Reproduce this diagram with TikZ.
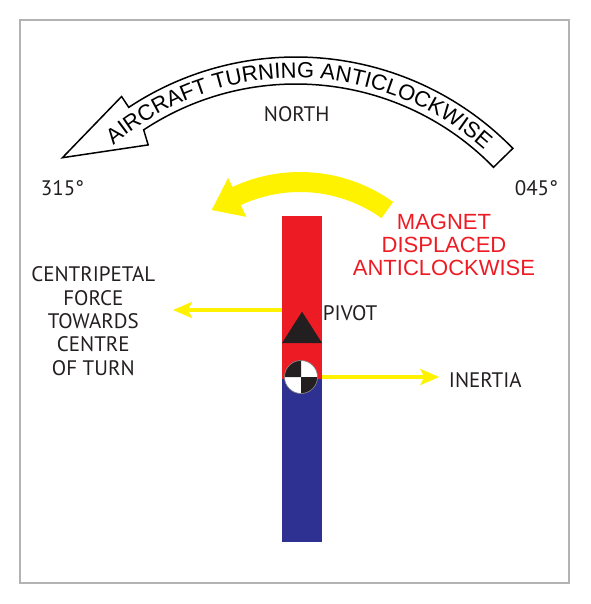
\documentclass[tikz,border=0pt]{standalone}
\usepackage{fontspec}
\setmainfont{PT Sans}
\newfontfamily\arialf{Liberation Sans}
\usetikzlibrary{decorations.text,arrows.meta}
\definecolor{magred}{HTML}{ED1C24}
\definecolor{magblue}{HTML}{2E3192}
\definecolor{yel}{HTML}{FFF200}
\definecolor{ink}{HTML}{231F20}
\definecolor{framegray}{HTML}{B3B3B3}
\begin{document}
\begin{tikzpicture}[x=1pt,y=1pt,
  lbl/.style={font=\fontsize{21}{23.3}\selectfont, text=ink, inner sep=0pt, align=center},
  redlbl/.style={font=\arialf\fontsize{22}{23.3}\selectfont, text=magred, inner sep=0pt, align=center},
  yarrow/.style={draw=yel, line width=3.3pt, -{Stealth[length=19pt,width=16pt,inset=4pt]}},
  barpart/.style={inner sep=0pt, minimum width=40pt, anchor=north, draw=none},
]
\useasboundingbox (0,0) rectangle (590,-604);
\draw[framegray, line width=1.3pt] (20,-20) rectangle (569,-583);

% big outline arrow
\coordinate (C1) at (296,-360);
\draw[line width=1.5pt, fill=white, line join=miter]
 ([shift={(44.3:303)}]C1) arc[start angle=44.3, end angle=123.5, radius=303]
 -- ([shift={(123.5:316)}]C1) -- ([shift={(139.1:309)}]C1) -- ([shift={(124.5:261)}]C1)
 -- ([shift={(123.5:276)}]C1) arc[start angle=123.5, end angle=44.3, radius=276] -- cycle;
\path[decorate, decoration={text along path, text align=center,
  text={|\arialf\fontsize{22}{26}\selectfont|AIRCRAFT TURNING ANTICLOCKWISE}}]
  ([shift={(131.5:282)}]C1) arc[start angle=131.5, end angle=47, radius=282];

% yellow curved arrow
\coordinate (C2) at (300,-332);
\fill[yel] ([shift={(54.4:160)}]C2) arc[start angle=54.4,end angle=115,radius=160]
 -- ([shift={(115:170)}]C2) -- ([shift={(125.9:150.6)}]C2) -- ([shift={(115:127)}]C2)
 -- ([shift={(115:140)}]C2) arc[start angle=115,end angle=54.4,radius=140] -- cycle;

% magnet
\node[barpart, fill=magred, minimum height=163pt] (npole) at (302,-216) {};
\node[barpart, fill=magblue, minimum height=163pt] (spole) at (302,-379) {};
\fill[ink] (282,-343) -- (322,-343) -- (302,-311.7) -- cycle;
\coordinate (cg) at (301,-377);
\fill[white] (cg) circle[radius=16.5];
\fill[ink] (cg) -- ([shift={(90:16.5)}]cg) arc[start angle=90,end angle=180,radius=16.5] -- cycle;
\fill[ink] (cg) -- ([shift={(270:16.5)}]cg) arc[start angle=270,end angle=360,radius=16.5] -- cycle;
\draw[gray, line width=0.6pt] (cg) circle[radius=16.5];

% labels
\node[lbl, anchor=base] (north) at (296.7,-121.7) {NORTH};
\node[lbl, anchor=base west] (w315) at (40.7,-195) {315°};
\node[lbl, anchor=base east] (e045) at (558.3,-195.7) {045°};
\node[redlbl, anchor=base] (magtxt) at (444,-275.7) {MAGNET\\DISPLACED\\ANTICLOCKWISE};
\node[lbl, anchor=base] (cptxt) at (93.3,-375) {CENTRIPETAL\\FORCE\\TOWARDS\\CENTRE\\OF TURN};
\node[lbl, anchor=base west] (pivot) at (322.7,-320) {PIVOT};
\node[lbl, anchor=base west] (inertia) at (448.7,-387.7) {INERTIA};

% straight arrows
\coordinate (cfstart) at (282,-310);
\coordinate (cfend) at (173,-310);
\coordinate (instart) at (322,-377);
\coordinate (inend) at (439.3,-377);
\draw[yarrow] (cfstart) -- (cfend);
\draw[yarrow] (instart) -- (inend);
\end{tikzpicture}
\end{document}
